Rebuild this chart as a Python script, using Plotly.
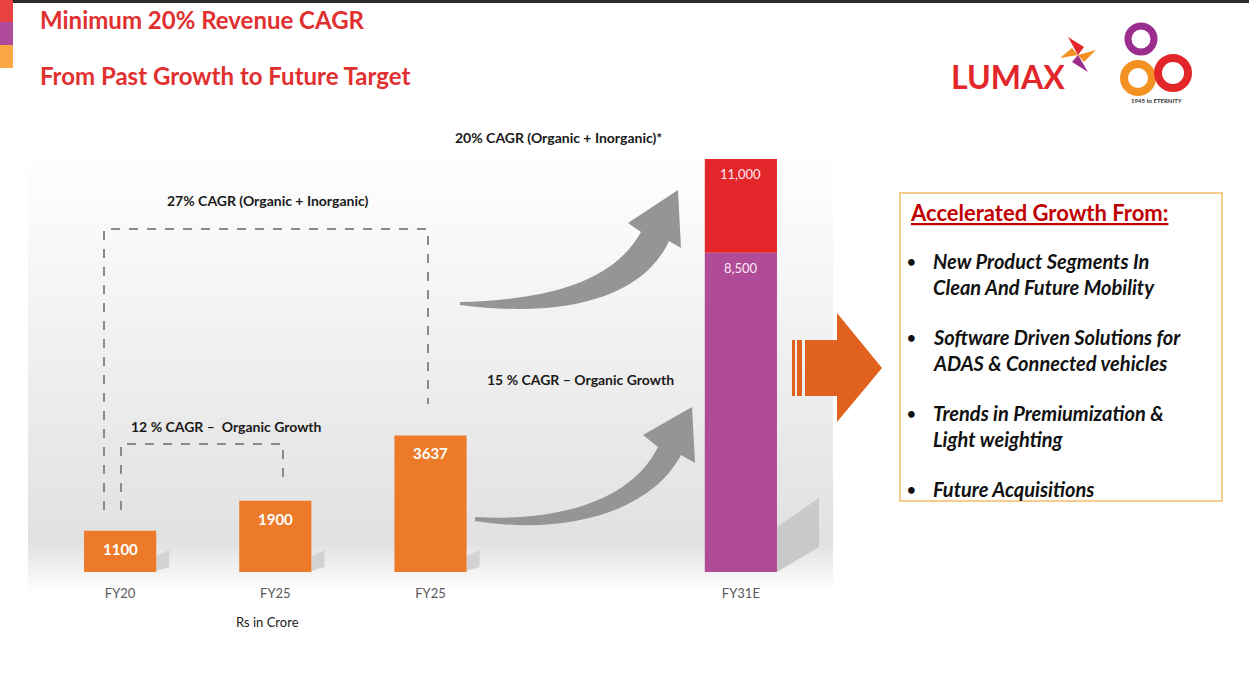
import plotly.graph_objects as go

# data (Rs in Crore)
categories = ["FY20", "FY25", "FY25", "FY31E"]
slots = [0, 1, 2, 4]
past_values = [1100, 1900, 3637]
fy31_organic = 8500
fy31_total = 11000
fy31_labels = ["8,500", "11,000"]

bullets = [
    ["New Product Segments In", "Clean And Future Mobility"],
    ["Software Driven Solutions for", "ADAS & Connected vehicles"],
    ["Trends in Premiumization &", "Light weighting"],
    ["Future Acquisitions"],
]

W, H = 1249, 684
L, R, T, B = 27, 415, 159, 112
PW, PH = W - L - R, H - T - B
FONT = "Lato"

ORANGE = "#ec7a28"
PURPLE = "#b04c97"
RED = "#e2262a"


def px(x, y):
    # pixel position on the page -> paper coords
    return (x - L) / PW, (H - B - y) / PH


def path(pts, close=True):
    out = []
    for cmd, *xy in pts:
        coords = []
        for i in range(0, len(xy), 2):
            a, b = px(xy[i], xy[i + 1])
            coords.append(f"{a:.5f},{b:.5f}")
        out.append(cmd + " " + " ".join(coords))
    return " ".join(out) + (" Z" if close else "")


def rect(x0, y0, x1, y1, color, line=None, width=0, layer="below"):
    a0, b0 = px(x0, y0)
    a1, b1 = px(x1, y1)
    return dict(type="rect", xref="paper", yref="paper", x0=a0, y0=b0, x1=a1, y1=b1,
                fillcolor=color, line=dict(color=line or color, width=width), layer=layer)


def circle(cx, cy, r, color, width):
    a0, b0 = px(cx - r, cy + r)
    a1, b1 = px(cx + r, cy - r)
    return dict(type="circle", xref="paper", yref="paper", x0=a0, y0=b0, x1=a1, y1=b1,
                line=dict(color=color, width=width), layer="above")


def text(x, y, s, size=14, color="#1a1a1a", bold=False, italic=False, anchor="center"):
    a, b = px(x, y)
    return dict(xref="paper", yref="paper", x=a, y=b, text=s, showarrow=False,
                xanchor=anchor, yanchor="middle",
                font=dict(family=FONT, size=size, color=color,
                          weight="bold" if bold else "normal",
                          style="italic" if italic else "normal"))


fig = go.Figure()

fig.add_trace(go.Bar(x=slots[:3], y=past_values, marker_color=ORANGE,
                     marker_line_width=0, width=0.465))
fig.add_trace(go.Bar(x=[slots[3]], y=[fy31_organic], marker_color=PURPLE,
                     marker_line_width=0, width=0.465))
fig.add_trace(go.Bar(x=[slots[3]], y=[fy31_total - fy31_organic], base=[fy31_organic],
                     marker_color=RED, marker_line_width=0, width=0.465))

shapes = []

# grey gradient panel behind the chart
y = 150
while y < 590:
    if y < 540:
        g = 255 - (y - 150) * 30 / 390
    else:
        g = 225 + (y - 540) * 30 / 50
    g = int(round(g))
    shapes.append(rect(28, y, 833, y + 4, f"rgb({g},{g},{g})"))
    y += 4

# bar shadows
for s, v in zip(slots[:3], past_values):
    h = min(v * PH / 11000, 40)
    x_right = L + (s + 0.6 + 0.2325) * PW / 5.2
    shapes.append(dict(type="path", xref="paper", yref="paper",
                       path=path([("M", x_right, 571), ("L", x_right, 572 - h * 0.4),
                                  ("L", x_right + 13, 572 - h * 0.55), ("L", x_right + 13, 567)]),
                       fillcolor="#d3d3d3", line=dict(width=0), layer="below"))
x_right = L + (slots[3] + 0.6 + 0.2325) * PW / 5.2
shapes.append(dict(type="path", xref="paper", yref="paper",
                   path=path([("M", x_right, 572), ("L", x_right, 527),
                              ("L", x_right + 42, 498), ("L", x_right + 42, 547)]),
                   fillcolor="#c9c9c9", line=dict(width=0), layer="below"))

# header strips
shapes.append(rect(0, 0, W, 3, "#2b2b2b"))
shapes.append(rect(0, 0, 13, 22, "#e8423f"))
shapes.append(rect(0, 22, 13, 45, "#b04a9a"))
shapes.append(rect(0, 45, 13, 68, "#f9a845"))

# dashed brackets
dash = dict(color="#8a8a8a", width=2, dash="dash")
shapes.append(dict(type="path", xref="paper", yref="paper", layer="above",
                   path=path([("M", 104, 510), ("L", 104, 229), ("L", 428, 229), ("L", 428, 404)], close=False),
                   line=dash))
shapes.append(dict(type="path", xref="paper", yref="paper", layer="above",
                   path=path([("M", 121, 510), ("L", 121, 444), ("L", 283, 444), ("L", 283, 482)], close=False),
                   line=dash))

# grey curved arrows
shapes.append(dict(type="path", xref="paper", yref="paper", layer="above",
                   path=path([("M", 460, 302), ("C", 540, 300, 612, 285, 641, 232),
                              ("L", 628, 223), ("L", 678, 190), ("L", 681, 248), ("L", 669, 241),
                              ("C", 642, 300, 560, 318, 460, 305)]),
                   fillcolor="#959595", line=dict(width=0)))
shapes.append(dict(type="path", xref="paper", yref="paper", layer="above",
                   path=path([("M", 475, 517), ("C", 560, 522, 632, 500, 658, 447),
                              ("L", 643, 435), ("L", 692, 407), ("L", 695, 463), ("L", 681, 455),
                              ("C", 652, 510, 570, 536, 475, 521)]),
                   fillcolor="#959595", line=dict(width=0)))

# orange block arrow
shapes.append(dict(type="path", xref="paper", yref="paper", layer="above",
                   path=path([("M", 805, 340), ("L", 837, 340), ("L", 837, 313), ("L", 882, 368),
                              ("L", 837, 422), ("L", 837, 396), ("L", 805, 396)]),
                   fillcolor="#e0621e", line=dict(width=0)))
shapes.append(rect(792, 340, 795, 396, "#e0621e", layer="above"))
shapes.append(rect(797, 340, 802, 396, "#e0621e", layer="above"))

# text box
shapes.append(rect(900, 193, 1222, 501, "rgba(0,0,0,0)", line="#f5bd68", width=1.5))

# logo marks
shapes.append(circle(1141, 39, 13, "#9b2d8e", 7))
shapes.append(circle(1138, 78, 14, "#f39222", 8))
shapes.append(circle(1173, 73, 15, RED, 8))
for pts, col in [
    ([("M", 1078, 55), ("L", 1068, 37), ("L", 1084, 47)], RED),
    ([("M", 1078, 55), ("L", 1096, 50), ("L", 1084, 62)], "#f39222"),
    ([("M", 1078, 55), ("L", 1088, 72), ("L", 1072, 62)], "#9b2d8e"),
    ([("M", 1078, 55), ("L", 1060, 58), ("L", 1072, 48)], "#f39222"),
]:
    shapes.append(dict(type="path", xref="paper", yref="paper", layer="above",
                       path=path(pts), fillcolor=col, line=dict(width=0)))

ann = []
ann.append(text(38, 19, "Minimum 20% Revenue CAGR", size=24, color="#e03030", bold=True, anchor="left"))
ann.append(text(38, 75, "From Past Growth to Future Target", size=24, color="#e03030", bold=True, anchor="left"))
ann.append(text(1008, 77, "LUMAX", size=32, color=RED, bold=True))
ann.append(text(1156, 100, "1945 to ETERNITY", size=6, color="#333333", bold=True))

ann.append(text(558, 137, "20% CAGR (Organic + Inorganic)*", bold=True))
ann.append(text(267, 200, "27% CAGR (Organic + Inorganic)", bold=True))
ann.append(text(226, 426, "12 % CAGR –  Organic Growth", bold=True))
ann.append(text(580, 379, "15 % CAGR – Organic Growth", bold=True))
ann.append(text(267, 622, "Rs in Crore", size=13))

# value labels on bars
for s, v in zip(slots[:3], past_values):
    ann.append(dict(x=s, y=v, text=str(v), showarrow=False, yanchor="middle", yshift=-18,
                    font=dict(family=FONT, size=15, color="white", weight="bold")))
for v, lab in zip([fy31_organic, fy31_total], fy31_labels):
    ann.append(dict(x=slots[3], y=v, text=lab, showarrow=False, yanchor="middle", yshift=-15,
                    font=dict(family=FONT, size=13, color="#fbe9f4")))

# right-hand box text
ann.append(text(908, 212, "<u>Accelerated Growth From:</u>", size=22, color="#c00000", bold=True, anchor="left"))
y = 261
for item in bullets:
    ann.append(text(911, y, "•", size=15, color="#111111", bold=True))
    for line in item:
        ann.append(text(931, y, line, size=20, color="#111111", bold=True, italic=True, anchor="left"))
        y += 26
    y += 24

fig.update_layout(
    width=W, height=H,
    margin=dict(l=L, r=R, t=T, b=B),
    paper_bgcolor="white", plot_bgcolor="rgba(0,0,0,0)",
    showlegend=False, barmode="overlay",
    shapes=shapes, annotations=ann,
    xaxis=dict(range=[-0.6, 4.6], tickvals=slots, ticktext=categories,
               showgrid=False, zeroline=False, showline=False, ticks="",
               ticklabelstandoff=12,
               tickfont=dict(family=FONT, size=13, color="#595959"), fixedrange=True),
    yaxis=dict(range=[0, 11000], visible=False, fixedrange=True),
)

fig.write_html("out.html", config={"displayModeBar": False},
               post_script="document.body.style.margin='0px';")
